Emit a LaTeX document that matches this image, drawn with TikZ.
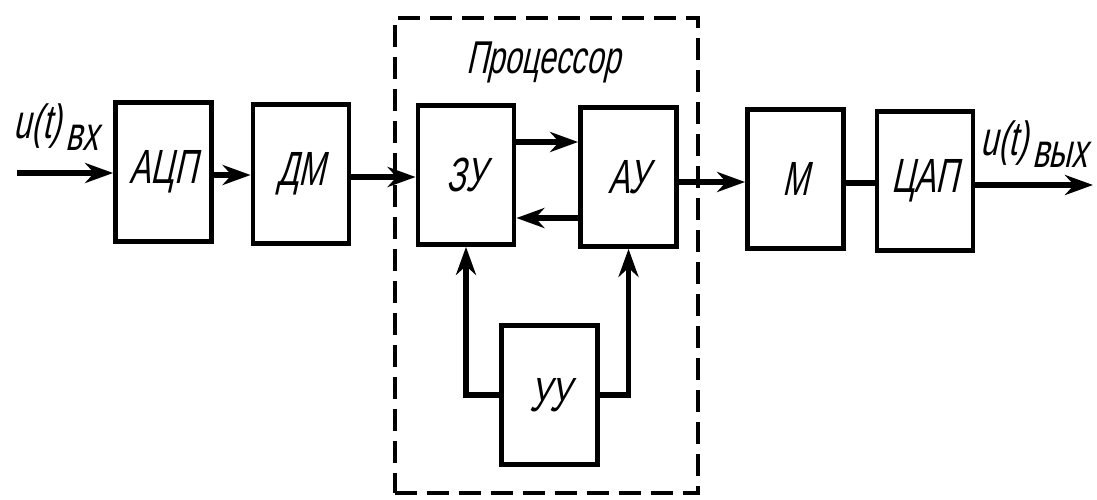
\documentclass[tikz,border=0pt]{standalone}
\usepackage{fontspec}
\newfontfamily\gost{Liberation Sans}[FakeStretch=0.66,FakeSlant=0.22]
\usetikzlibrary{arrows.meta}
\begin{document}
\begin{tikzpicture}[x=0.5pt,y=-0.5pt,
  blk/.style={draw, line width=2.4pt, minimum width=48pt, minimum height=69.5pt, inner sep=0pt,
    font=\gost\fontsize{24}{27}\selectfont},
  conn/.style={line width=2.6pt},
  arr/.style={conn, -{Stealth[length=14pt,width=10pt,inset=4.5pt]}},
  lbl/.style={inner sep=0pt, font=\gost\fontsize{24}{27}\selectfont}]
\useasboundingbox (0,0) rectangle (1097,499);
% processor frame
\node[draw, line width=2pt, dash pattern=on 11pt off 5pt, minimum width=151.5pt, minimum height=237.5pt, inner sep=0pt] (proc) at (546.5,255.5) {};
\node[lbl, font=\gost\fontsize{23}{26}\selectfont] (proclbl) at (543,62) {Процессор};
% blocks
\node[blk] (adc) at (163.5,172) {АЦП};
\node[blk] (dm)  at (301,174) {ДМ};
\node[blk] (zu)  at (466,175) {ЗУ};
\node[blk] (au)  at (628.5,177) {АУ};
\node[blk] (m)   at (795.5,179) {М};
\node[blk] (dac) at (925,181) {ЦАП};
\node[blk] (uu)  at (549.5,395) {УУ};
% terminals
\coordinate (in) at (17,173);
\coordinate (out) at (1093,185);
\node[lbl] (inlbl) at (56,127) {u(t)\kern2pt\raisebox{-0.5ex}{вх}};
\node[lbl] (outlbl) at (1034,144) {u(t)\kern2pt\raisebox{-0.5ex}{вых}};
% connectors
\draw[arr] (in) -- (adc.west |- in);
\draw[arr] (adc.east |- 0,175) -- (dm.west |- 0,175);
\draw[arr] (dm.east |- 0,177) -- (zu.west |- 0,177);
\draw[arr] (zu.east |- 0,142) -- (au.west |- 0,142);
\draw[arr] (au.west |- 0,218) -- (zu.east |- 0,218);
\draw[arr] (au.east |- 0,182) -- (m.west |- 0,182);
\draw[conn] (m.east |- 0,183) -- (dac.west |- 0,183);
\draw[arr] (dac.east |- out) -- (out);
\draw[arr] (uu.west) -| (zu.south);
\draw[arr] (uu.east) -| (au.south);
\end{tikzpicture}
\end{document}
